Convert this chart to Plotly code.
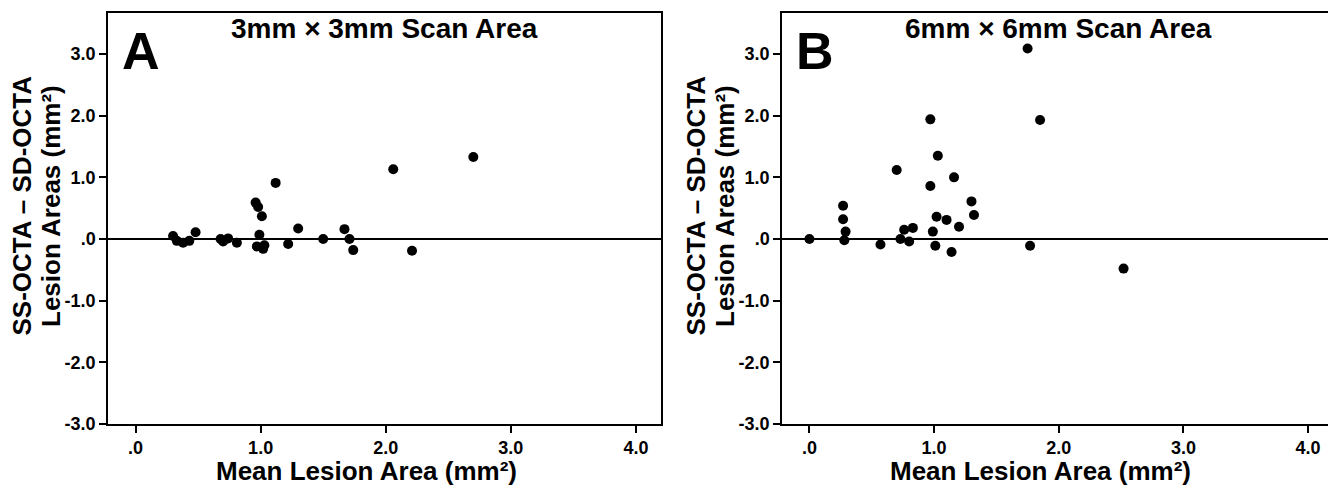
import plotly.graph_objects as go

# Panel A: 3mm x 3mm scan area
a_mean = [0.30, 0.33, 0.38, 0.43, 0.48, 0.68, 0.70, 0.74, 0.81, 0.96, 0.98, 1.01, 0.99,
          0.97, 1.02, 1.03, 1.12, 1.22, 1.30, 1.50, 1.67, 1.71, 1.74, 2.06, 2.21, 2.70]
a_diff = [0.05, -0.03, -0.06, -0.03, 0.11, 0.00, -0.04, 0.01, -0.06, 0.59, 0.52, 0.37, 0.07,
          -0.12, -0.16, -0.10, 0.91, -0.08, 0.17, 0.00, 0.16, 0.00, -0.18, 1.13, -0.19, 1.33]

# Panel B: 6mm x 6mm scan area
b_mean = [0.00, 0.27, 0.27, 0.29, 0.28, 0.57, 0.70, 0.73, 0.76, 0.80, 0.83, 0.97, 0.97,
          1.03, 0.99, 1.02, 1.01, 1.10, 1.14, 1.16, 1.20, 1.30, 1.32, 1.75, 1.77, 1.85, 2.52]
b_diff = [0.00, 0.54, 0.32, 0.12, -0.02, -0.09, 1.12, 0.00, 0.15, -0.04, 0.18, 0.86, 1.94,
          1.35, 0.12, 0.36, -0.11, 0.31, -0.21, 1.00, 0.20, 0.61, 0.39, 3.09, -0.11, 1.93, -0.48]

x_ticks = [0, 1, 2, 3, 4]
x_ticktext = [".0", "1.0", "2.0", "3.0", "4.0"]
y_ticks = [3, 2, 1, 0, -1, -2, -3]
y_ticktext = ["3.0", "2.0", "1.0", ".0", "-1.0", "-2.0", "-3.0"]

# the page body has an 8px default margin; size figure so it fits the window
OFF = 8
W, H = 1336 - OFF, 494 - OFF
FONT = "Liberation Sans, Arial, sans-serif"

def px(x):
    return (x - OFF) / W

def py(y):
    return 1 - (y - OFF) / H

fig = go.Figure()
fig.add_trace(go.Scatter(x=a_mean, y=a_diff, mode="markers", xaxis="x", yaxis="y",
                         marker=dict(color="black", size=10), showlegend=False))
fig.add_trace(go.Scatter(x=b_mean, y=b_diff, mode="markers", xaxis="x2", yaxis="y2",
                         marker=dict(color="black", size=10), showlegend=False))

common_x = dict(range=[-0.22, 4.2], tickvals=x_ticks, ticktext=x_ticktext,
                ticks="outside", ticklen=7, tickwidth=1.5, tickcolor="black",
                showline=True, linecolor="black", linewidth=1.5, mirror=True,
                showgrid=False, zeroline=False,
                tickfont=dict(family=FONT, size=18, color="black", weight="bold"))
common_y = dict(range=[-3.0, 3.665], tickvals=y_ticks, ticktext=y_ticktext,
                ticks="outside", ticklen=7, tickwidth=1.5, tickcolor="black",
                showline=True, linecolor="black", linewidth=1.5, mirror=True,
                showgrid=False, zeroline=True, zerolinecolor="black", zerolinewidth=2,
                tickfont=dict(family=FONT, size=18, color="black", weight="bold"),
                domain=[py(424), py(13)])

fig.update_layout(
    width=W, height=H,
    margin=dict(l=0, r=0, t=0, b=0, autoexpand=False),
    paper_bgcolor="white", plot_bgcolor="white",
    xaxis=dict(domain=[px(108), px(661)], anchor="y", **common_x),
    yaxis=dict(anchor="x", **common_y),
    xaxis2=dict(domain=[px(782), px(1333)], anchor="y2", **common_x),
    yaxis2=dict(anchor="x2", **common_y),
)

def ann(text, x, y, size, angle=0):
    fig.add_annotation(text=text, x=px(x), y=py(y), xref="paper", yref="paper",
                       showarrow=False, textangle=angle, xanchor="center", yanchor="middle",
                       font=dict(family=FONT, size=size, color="black", weight="bold"))

for off, letter, title in [(0, "A", "3mm × 3mm Scan Area"), (674, "B", "6mm × 6mm Scan Area")]:
    ann(title, 384.5 + off, 28, 28)
    ann(letter, 141 + off, 51, 52)
    ann("SS-OCTA – SD-OCTA", 21.5 + off, 206, 26, -90)
    ann("Lesion Areas (mm²)", 51 + off, 206, 26, -90)
    ann("Mean Lesion Area (mm²)", 366 + off, 471, 26)

fig.write_html("out.html")
